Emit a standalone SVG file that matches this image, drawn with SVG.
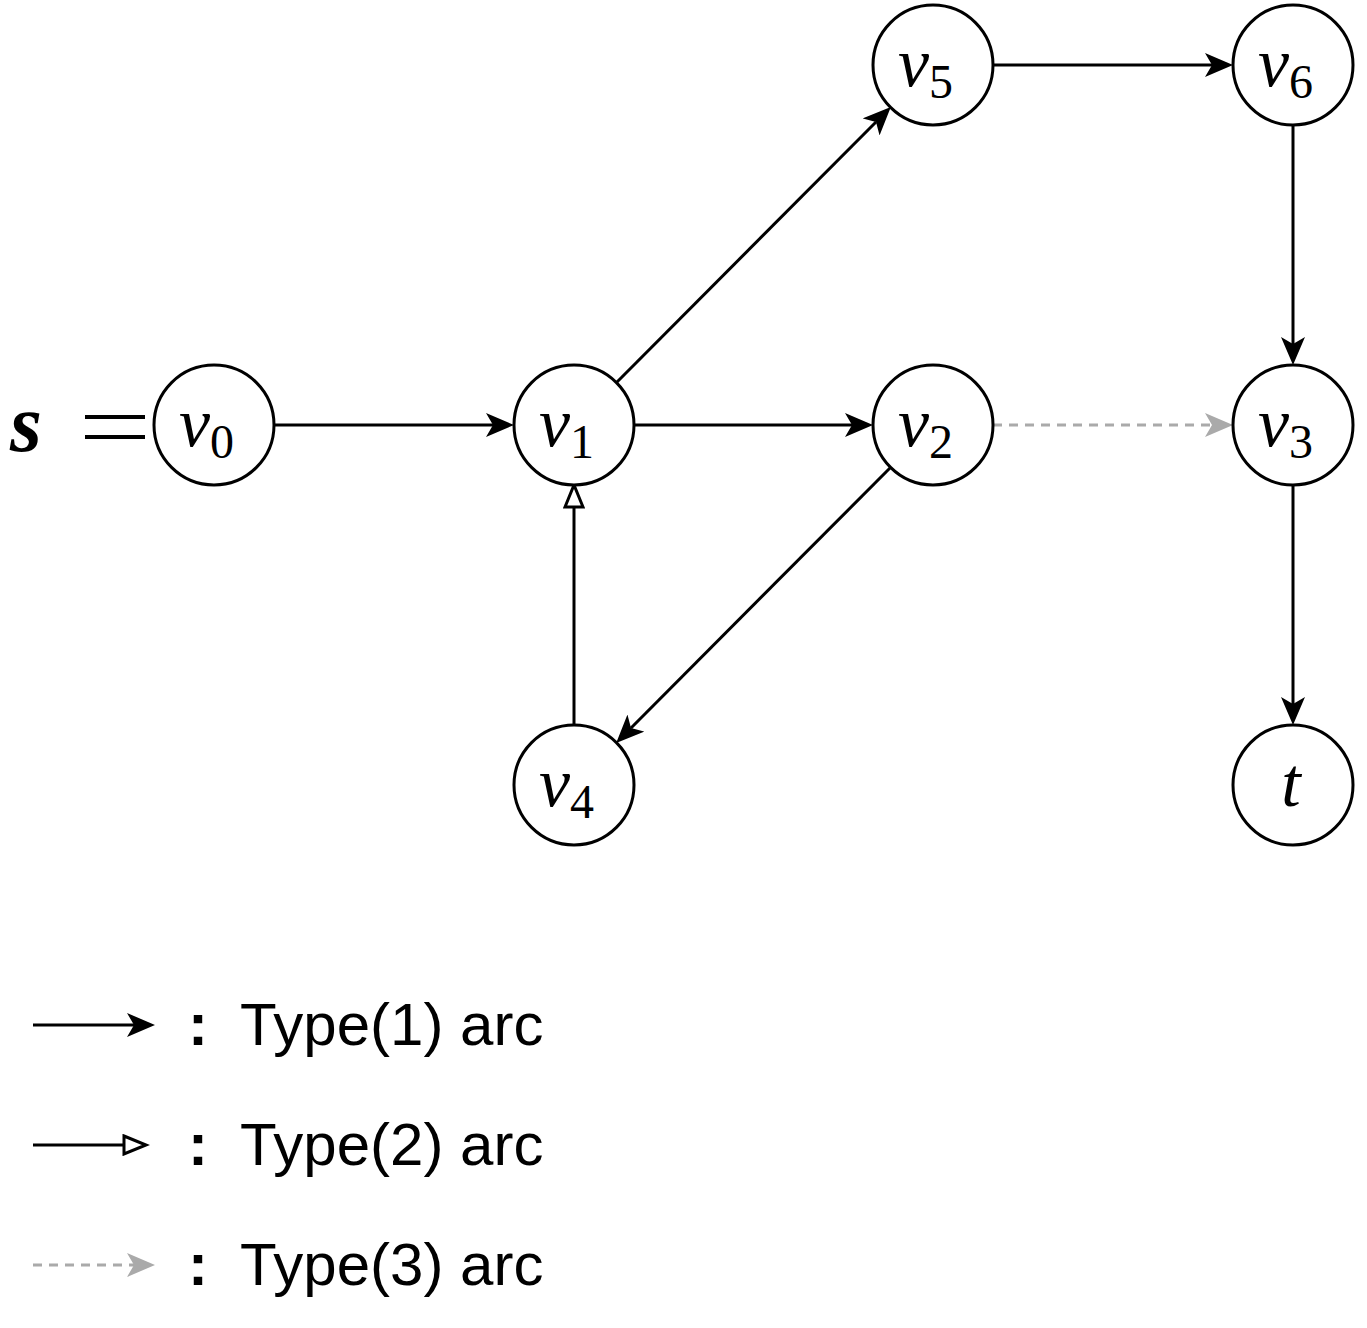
<svg xmlns="http://www.w3.org/2000/svg" width="1367" height="1328" viewBox="0 0 1367 1328">
<style>
.node{fill:#fff;stroke:#000;stroke-width:3}
.v{font-family:"Liberation Serif","DejaVu Serif",serif;font-style:italic;font-size:70px;fill:#000}
.sub{font-family:"Liberation Serif","DejaVu Serif",serif;font-style:normal;font-size:48px}
.e{fill:none;stroke:#000;stroke-width:3}
.d{fill:none;stroke:#aaaaaa;stroke-width:3;stroke-dasharray:9 7}
.leg{font-family:"Liberation Sans",Arial,sans-serif;font-size:60px;fill:#000}
</style>
<defs>
<marker id="a1" markerUnits="userSpaceOnUse" viewBox="0 0 28 24" markerWidth="28" markerHeight="24" refX="7" refY="12" orient="auto">
<path d="M0,0 L28,12 L0,24 L7,12 Z" fill="#000"/>
</marker>
<marker id="a3" markerUnits="userSpaceOnUse" viewBox="0 0 28 24" markerWidth="28" markerHeight="24" refX="7" refY="12" orient="auto">
<path d="M0,0 L28,12 L0,24 L7,12 Z" fill="#aaaaaa"/>
</marker>
<marker id="a2" markerUnits="userSpaceOnUse" viewBox="-2 -2 28 22" markerWidth="28" markerHeight="22" refX="0" refY="9" orient="auto">
<path d="M0,0 L22,9 L0,18 Z" fill="#fff" stroke="#000" stroke-width="3" stroke-linejoin="miter"/>
</marker>
</defs>

<g id="connectors">
<line class="e" x1="274" y1="425" x2="493" y2="425" marker-end="url(#a1)"/>
<line class="e" x1="634" y1="425" x2="852" y2="425" marker-end="url(#a1)"/>
<line class="e" x1="616" y1="383" x2="876" y2="122" marker-end="url(#a1)"/>
<line class="e" x1="993" y1="65" x2="1212" y2="65" marker-end="url(#a1)"/>
<line class="e" x1="1293" y1="125" x2="1293" y2="344" marker-end="url(#a1)"/>
<line class="e" x1="1293" y1="485" x2="1293" y2="704" marker-end="url(#a1)"/>
<line class="e" x1="891" y1="467" x2="631" y2="728" marker-end="url(#a1)"/>
<line class="e" x1="574" y1="725" x2="574" y2="507" marker-end="url(#a2)"/>
<line class="d" x1="993" y1="425" x2="1212" y2="425" marker-end="url(#a3)"/>
</g>

<g id="s-eq">
<text x="10" y="451" font-family="'Liberation Serif','DejaVu Serif',serif" font-style="italic" font-weight="bold" font-size="82">s</text>
<line x1="85" y1="417" x2="145" y2="417" stroke="#000" stroke-width="4"/>
<line x1="85" y1="437" x2="145" y2="437" stroke="#000" stroke-width="4"/>
</g>

<g id="v0"><circle class="node" cx="214" cy="425" r="60"/><text class="v" x="179" y="446">v<tspan class="sub" dy="12">0</tspan></text></g>
<g id="v1"><circle class="node" cx="574" cy="425" r="60"/><text class="v" x="539" y="446">v<tspan class="sub" dy="12">1</tspan></text></g>
<g id="v2"><circle class="node" cx="933" cy="425" r="60"/><text class="v" x="898" y="446">v<tspan class="sub" dy="12">2</tspan></text></g>
<g id="v3"><circle class="node" cx="1293" cy="425" r="60"/><text class="v" x="1258" y="446">v<tspan class="sub" dy="12">3</tspan></text></g>
<g id="v5"><circle class="node" cx="933" cy="65" r="60"/><text class="v" x="898" y="86">v<tspan class="sub" dy="12">5</tspan></text></g>
<g id="v6"><circle class="node" cx="1293" cy="65" r="60"/><text class="v" x="1258" y="86">v<tspan class="sub" dy="12">6</tspan></text></g>
<g id="v4"><circle class="node" cx="574" cy="785" r="60"/><text class="v" x="539" y="806">v<tspan class="sub" dy="12">4</tspan></text></g>
<g id="t"><circle class="node" cx="1293" cy="785" r="60"/><text class="v" x="1291" y="806" text-anchor="middle">t</text></g>

<g id="legend">
<line class="e" x1="33" y1="1025" x2="134" y2="1025" marker-end="url(#a1)"/>
<line class="e" x1="33" y1="1145" x2="124" y2="1145" marker-end="url(#a2)"/>
<line class="d" x1="33" y1="1265" x2="134" y2="1265" marker-end="url(#a3)"/>
<text class="leg" x="188" y="1045" font-weight="bold">:</text>
<text class="leg" x="240" y="1045">Type(1) arc</text>
<text class="leg" x="188" y="1165" font-weight="bold">:</text>
<text class="leg" x="240" y="1165">Type(2) arc</text>
<text class="leg" x="188" y="1285" font-weight="bold">:</text>
<text class="leg" x="240" y="1285">Type(3) arc</text>
</g>
</svg>
